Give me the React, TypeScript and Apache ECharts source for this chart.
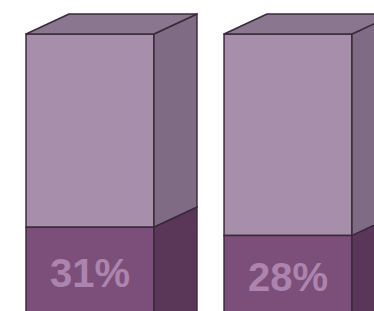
import React, { useEffect, useRef } from "react";
import * as echarts from "echarts";

const categories = ["Box 1", "Box 2"];
const shareValues = [31, 28];
const totalValues = [100, 100];

export default function App() {
  const ref = useRef<HTMLDivElement>(null);
  useEffect(() => {
    if (!ref.current) return;
    const chart = echarts.init(ref.current, undefined, { renderer: "svg" });
    const edge = "#3b2a3b";
    const dx = 43;
    const dy = 20;
    const option: any = {
      animation: false,
      backgroundColor: "#ffffff",
      grid: { left: 0, right: 0, top: 34, bottom: 0 },
      xAxis: { type: "value", min: -0.4545, max: 1.4343, show: false },
      yAxis: { type: "value", min: 1.0714, max: 100, show: false },
      series: [
        {
          type: "custom",
          clip: false,
          data: categories.map((c, i) => [i, shareValues[i], totalValues[i]]),
          renderItem: (params: any, api: any) => {
            const idx = api.value(0);
            const v = api.value(1);
            const t = api.value(2);
            const band = api.size([1, 0])[0];
            const w = band * 0.646;
            const pTop = api.coord([idx, t]);
            const pSplit = api.coord([idx, v]);
            const pBot = api.coord([idx, 0]);
            const x0 = pTop[0] - w / 2;
            const x1 = pTop[0] + w / 2;
            const yT = pTop[1];
            const yS = pSplit[1];
            const yB = pBot[1] + 40;
            const lw = 1.5;
            return {
              type: "group",
              children: [
                { type: "rect", shape: { x: x0, y: yT, width: w, height: yS - yT }, style: { fill: "#a78eab", stroke: edge, lineWidth: lw } },
                { type: "rect", shape: { x: x0, y: yS, width: w, height: yB - yS }, style: { fill: "#7b4f79", stroke: edge, lineWidth: lw } },
                { type: "polygon", shape: { points: [[x1, yT], [x1 + dx, yT - dy], [x1 + dx, yS - dy], [x1, yS]] }, style: { fill: "#7f6b83", stroke: edge, lineWidth: lw } },
                { type: "polygon", shape: { points: [[x1, yS], [x1 + dx, yS - dy], [x1 + dx, yB - dy], [x1, yB]] }, style: { fill: "#5a3658", stroke: edge, lineWidth: lw } },
                { type: "polygon", shape: { points: [[x0, yT], [x1, yT], [x1 + dx, yT - dy], [x0 + dx, yT - dy]] }, style: { fill: "#8b7690", stroke: edge, lineWidth: lw, lineJoin: "round" } },
                {
                  type: "text",
                  style: {
                    x: (x0 + x1) / 2,
                    y: (yS + pBot[1]) / 2 + 2,
                    text: v + "%",
                    fill: "#ad84ad",
                    font: "bold 40px 'Liberation Sans', Arial, sans-serif",
                    align: "center",
                    verticalAlign: "middle",
                  },
                },
              ],
            };
          },
        },
      ],
    };
    chart.setOption(option);
    return () => chart.dispose();
  }, []);
  return <div ref={ref} style={{ width: 374, height: 311, position: "absolute", left: 0, top: 0 }} />;
}
